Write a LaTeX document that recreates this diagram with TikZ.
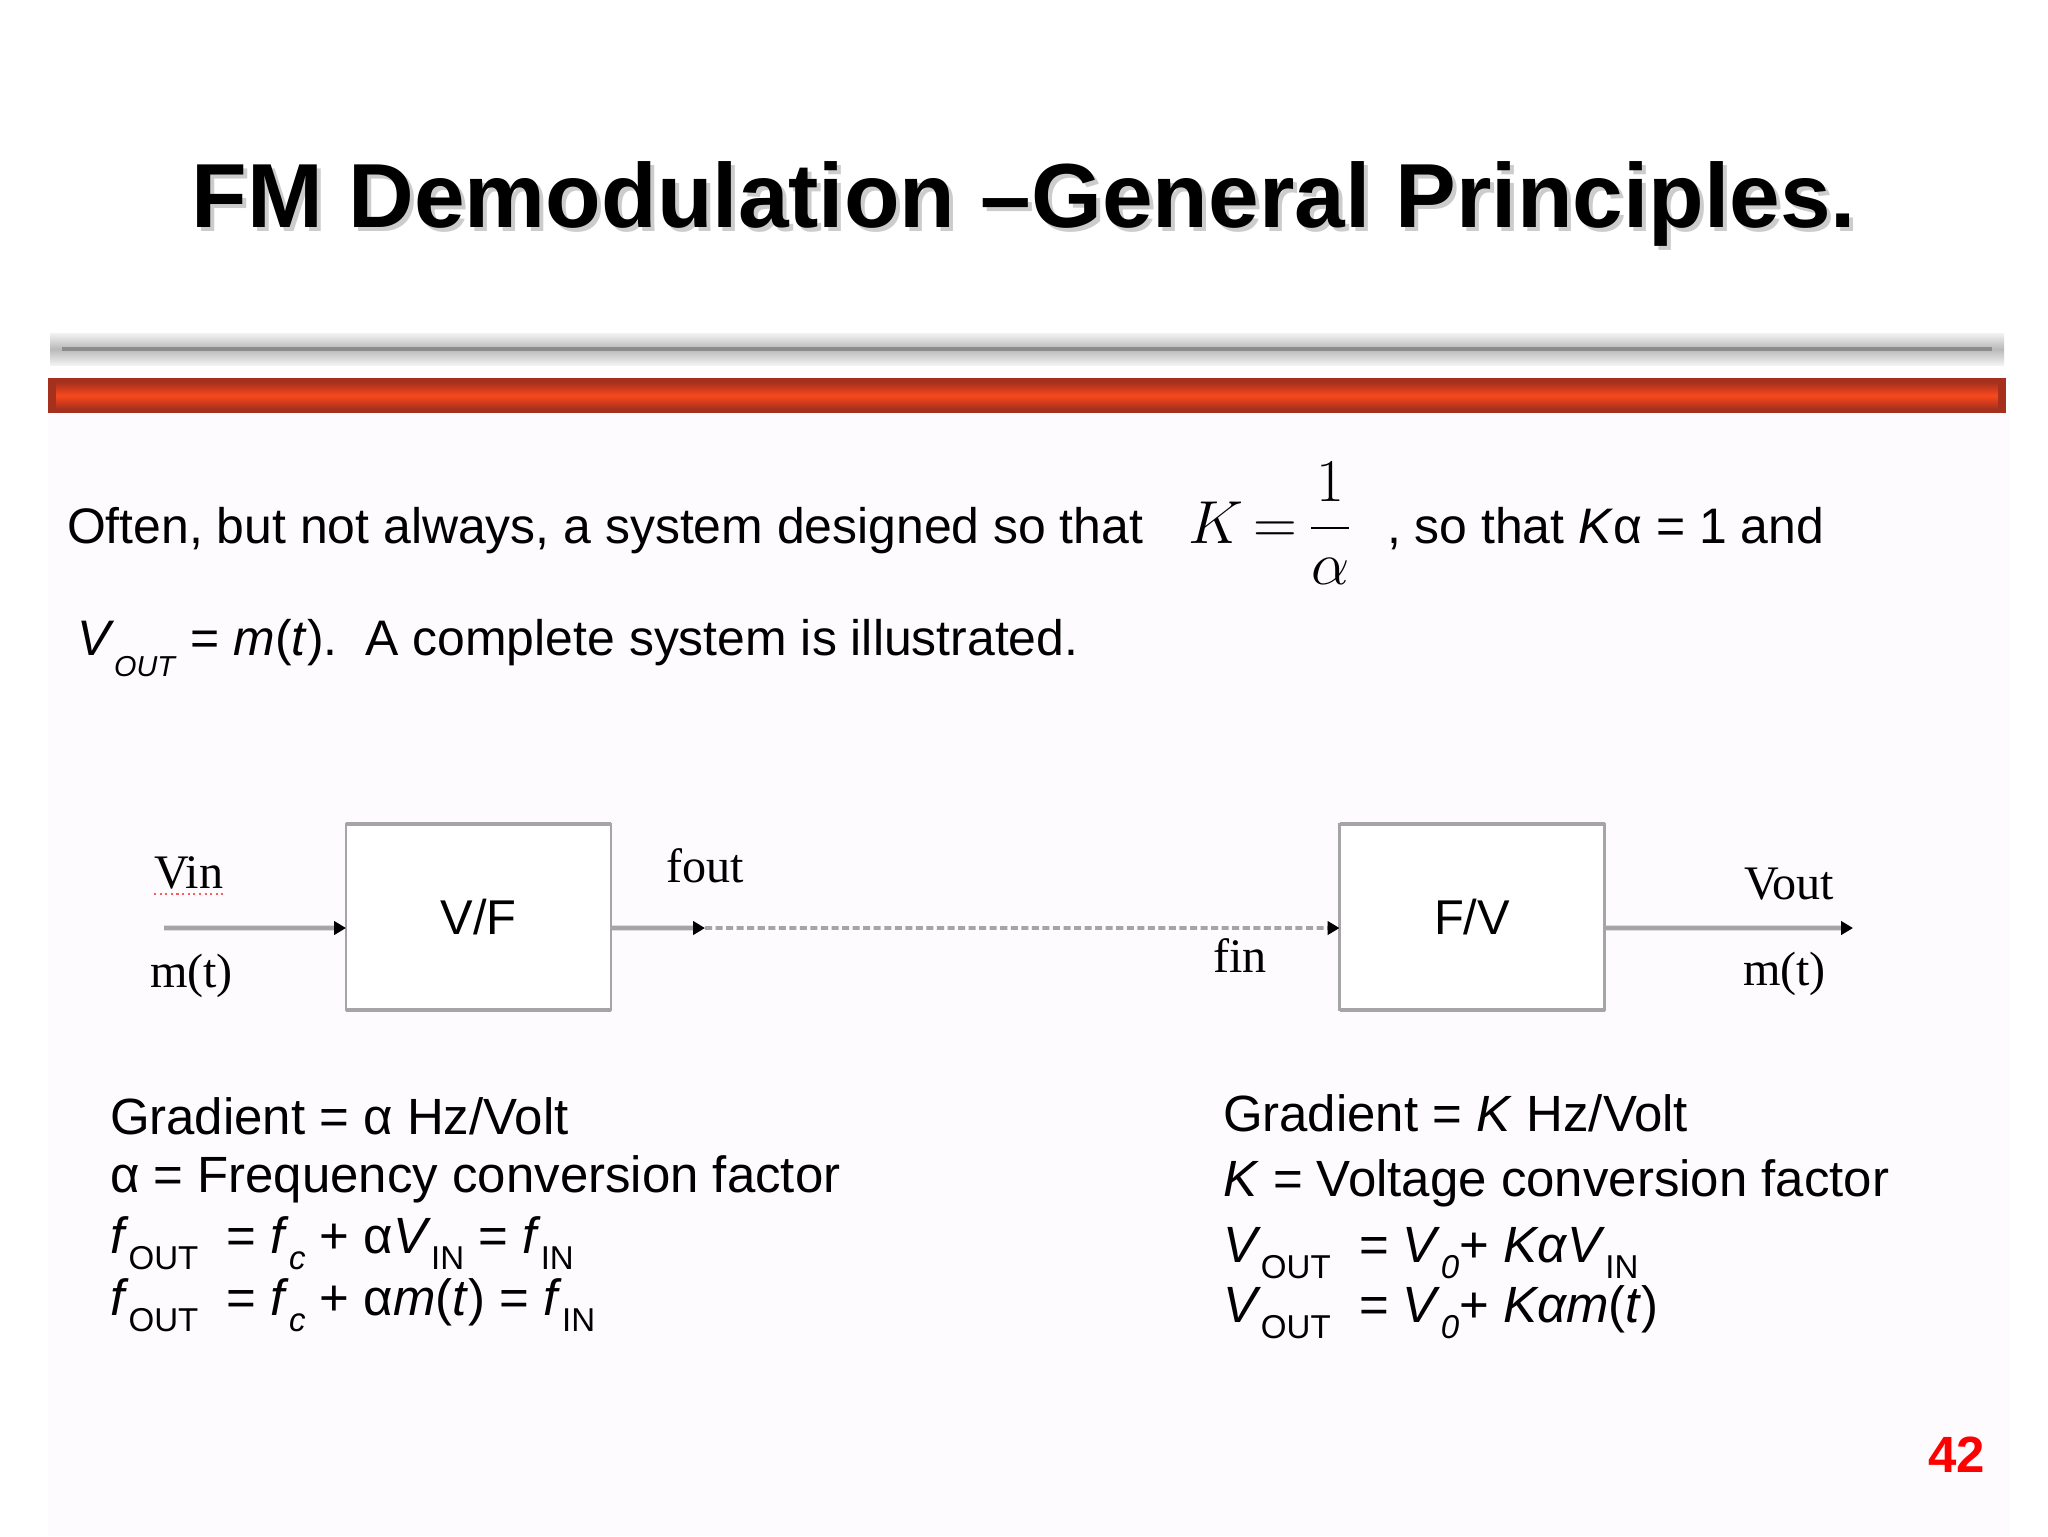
\documentclass[tikz,border=0pt]{standalone}
\usepackage[no-math]{fontspec}
\usepackage{amsmath}
\usepackage{tikz}
\usetikzlibrary{arrows.meta}
\setmainfont{Liberation Sans}
\newfontfamily\timesfont{Liberation Serif}

\definecolor{wireGray}{RGB}{165,165,165}
\definecolor{barRed}{RGB}{250,72,28}
\definecolor{barDark}{RGB}{165,48,30}
\definecolor{pageTint}{RGB}{253,251,253}

% lowered subscript as on the slide
\newcommand{\lowidx}[1]{\raisebox{-4.8pt}{\fontsize{9.4pt}{10pt}\selectfont #1}}

\begin{document}
\begin{tikzpicture}[x=0.1mm,y=-0.1mm,
  every node/.style={inner sep=0pt, outer sep=0pt},
  titletext/.style={anchor=base, font=\bfseries\fontsize{25.9pt}{30pt}\selectfont},
  bodytext/.style={anchor=base west, font=\fontsize{14.2pt}{17pt}\selectfont},
  eqtext/.style={anchor=base west, font=\fontsize{14.5pt}{17pt}\selectfont},
  wirelabel/.style={anchor=base west, font=\timesfont\fontsize{13.7pt}{16pt}\selectfont},
  blockbox/.style={draw=wireGray, line width=0.8pt, fill=white,
    minimum width=26.5mm, minimum height=18.6mm, font=\fontsize{13.9pt}{16pt}\selectfont},
  boxedge/.style={wireGray, line width=1.4pt},
  sigline/.style={wireGray, line width=1.4pt, -{Triangle[black,length=3.4pt,width=3.8pt]}},
  dotline/.style={wireGray, line width=1.1pt, dash pattern=on 2pt off 1pt,
    -{Triangle[black,length=3.4pt,width=3.8pt]}}]
  \useasboundingbox (0,0) rectangle (2048,1536);
  \fill[white] (0,0) rectangle (2048,1536);
  \fill[pageTint] (48,414) rectangle (2010,1536);

  % title and bars
  \node[titletext, text=gray!40] (Tshadow) at (1028,231) {FM Demodulation –General Principles.};
  \node[titletext] (T) at (1024,227) {FM Demodulation –General Principles.};
  \shade[top color=gray!10, bottom color=gray!10, middle color=gray!55] (50,333) rectangle (2004,365);
  \draw[gray!90, line width=1pt] (62,349) -- (1992,349);
  \fill[barDark] (48,378) rectangle (2006,413);
  \shade[top color=barDark, bottom color=barDark, middle color=barRed] (56,382) rectangle (1998,409);

  % text above the diagram
  \node[bodytext] (P1) at (67,543) {Often, but not always, a system designed so that};
  \node[anchor=base west, font=\fontsize{17pt}{20pt}\selectfont] (Kfrac) at (1188,543) {$\thickmuskip=3mu K=\dfrac{1}{\alpha}$};
  \node[bodytext] (P1b) at (1387,543) {, so that \textit{K}α = 1 and};
  \node[bodytext] (P2) at (77,655) {\textit{V}\raisebox{-6pt}{\fontsize{8.2pt}{9pt}\selectfont\textit{OUT}} = \textit{m}(\textit{t}).\ \ A complete system is illustrated.};

  % block diagram
  \node[blockbox] (VF) at (478.5,917) {V/F};
  \node[blockbox] (FV) at (1472,917) {F/V};
  \draw[boxedge] (VF.north west) -- (VF.north east);
  \draw[boxedge] (VF.south west) -- (VF.south east);
  \draw[boxedge] (FV.north west) -- (FV.north east);
  \draw[boxedge] (FV.south west) -- (FV.south east);
  \coordinate (Vsrc) at (164,928);
  \coordinate (Fmid) at (705,928);
  \coordinate (Vdst) at (1853,928);
  \draw[sigline] (Vsrc) -- ([yshift=-1.1mm]VF.west);
  \draw[sigline] ([yshift=-1.1mm]VF.east) -- (Fmid);
  \draw[dotline] (Fmid) -- ([yshift=-1.1mm]FV.west);
  \draw[sigline] ([yshift=-1.1mm]FV.east) -- (Vdst);
  \node[wirelabel] (Vin) at (154,888) {Vin};
  \draw[red!65, densely dotted, line width=0.6pt] ([yshift=-1.6pt]Vin.base west) -- ([yshift=-1.6pt]Vin.base east);
  \node[wirelabel] (Min) at (150,987) {m(t)};
  \node[wirelabel] (Fout) at (666,882) {fout};
  \node[wirelabel] (Fin) at (1213,972) {fin};
  \node[wirelabel] (Vout) at (1744,899) {Vout};
  \node[wirelabel] (Mout) at (1743,985) {m(t)};

  % left block of relations
  \node[eqtext] (L1) at (110,1134) {Gradient = α Hz/Volt};
  \node[eqtext] (L2) at (110,1192) {α = Frequency conversion factor};
  \node[eqtext] (L3) at (110,1253) {\textit{f}\lowidx{OUT} \ = \textit{f}\lowidx{\textit{c}} + α\textit{V}\lowidx{IN} = \textit{f}\lowidx{IN}};
  \node[eqtext] (L4) at (110,1315) {\textit{f}\lowidx{OUT} \ = \textit{f}\lowidx{\textit{c}} + α\textit{m}(\textit{t}) = \textit{f}\lowidx{IN}};

  % right block of relations
  \node[eqtext] (R1) at (1223,1131) {Gradient = \textit{K} Hz/Volt};
  \node[eqtext] (R2) at (1223,1196) {\textit{K} = Voltage conversion factor};
  \node[eqtext] (R3) at (1223,1262) {\textit{V}\lowidx{OUT} \ = \textit{V}\lowidx{\textit{0}}+ \textit{Kα}\textit{V}\lowidx{IN}};
  \node[eqtext] (R4) at (1223,1322) {\textit{V}\lowidx{OUT} \ = \textit{V}\lowidx{\textit{0}}+ \textit{Kαm}(\textit{t})};

  \node[anchor=base west, text=red, font=\bfseries\fontsize{14.5pt}{17pt}\selectfont] (Pg) at (1928,1472) {42};
\end{tikzpicture}
\end{document}
